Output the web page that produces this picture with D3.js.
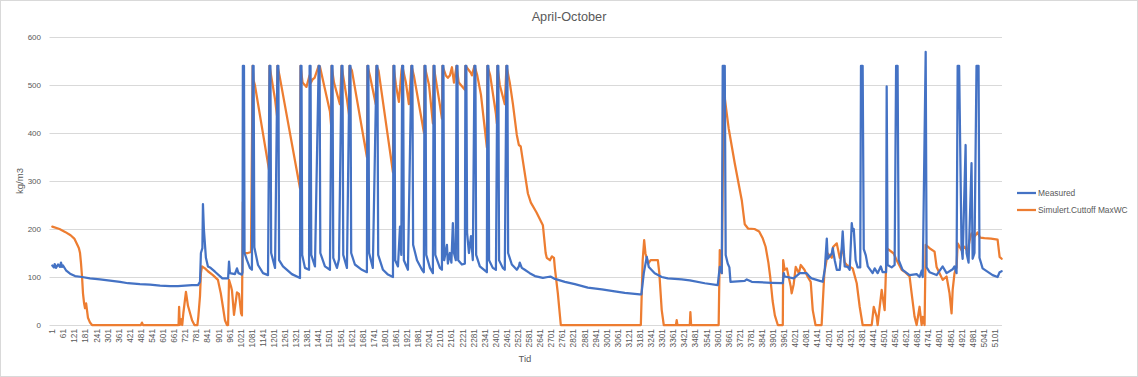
<!DOCTYPE html>
<html>
<head>
<meta charset="utf-8">
<script src="https://cdn.jsdelivr.net/npm/d3@7"></script>
<style>
    body { margin: 0; background: #fff; }
    svg { display: block; font-family: "Liberation Sans", Arial, sans-serif; }
</style>
</head>
<body>
<svg id="chart" width="1138" height="377"></svg>
<script>

var chartTitle = "April-October";
var yTitle = "kg/m3";
var xTitle = "Tid";
var seriesNames = ["Measured", "Simulert.Cuttoff MaxWC"];
var seriesColors = ["#4472C4", "#ED7D31"];
var yTicks = [0, 100, 200, 300, 400, 500, 600];
var xTickLabels = d3.range(1, 5102, 60);

// [Tid, kg/m3]
var measuredPoints = [
    [1,124],[10,120],[14,127],[21,119],[32,126],[43,121],[48,130],[54,121],[59,124],[75,114],[97,107],[124,102],
    [162,100],[205,97],[259,95],[324,92],[367,90],[411,87],[475,85],[530,84],[584,82],[638,81],[681,81],[719,82],
    [757,83],[789,83],[800,90],[805,150],[813,160],[816,252],[821,200],[832,140],[843,122],[854,120],[881,111],
    [921,97],[952,97],[957,132],[962,108],[989,106],[1000,118],[1008,108],[1027,105],
    [1030,110],[1032,540],[1038,540],[1041,150],[1054,135],[1070,119],[1081,115],
    [1085,540],[1090,540],[1094,162],[1114,125],[1141,108],[1168,104],
    [1176,540],[1181,540],[1185,150],[1206,119],
    [1219,540],[1224,540],[1228,135],[1249,122],[1297,106],[1341,98],
    [1344,540],[1349,540],[1353,146],[1368,119],[1390,115],
    [1393,540],[1398,540],[1402,146],[1422,122],
    [1442,540],[1447,540],[1451,150],[1476,122],[1503,115],
    [1512,540],[1517,540],[1521,140],[1541,119],[1552,137],
    [1566,540],[1571,540],[1575,146],[1595,119],
    [1609,540],[1614,540],[1618,150],[1638,126],[1676,115],[1703,110],
    [1706,540],[1711,540],[1715,150],[1735,119],
    [1755,540],[1760,540],[1764,146],[1790,115],[1817,105],[1844,100],
    [1847,540],[1852,540],[1856,135],[1871,122],[1882,205],[1889,146],
    [1894,540],[1899,540],[1903,135],[1925,115],
    [1944,540],[1949,540],[1953,167],[1974,135],[2001,115],[2011,110],
    [2015,540],[2020,540],[2024,146],[2044,119],[2060,108],
    [2064,540],[2069,540],[2073,146],[2098,119],[2109,115],
    [2112,540],[2117,540],[2121,135],[2136,167],[2141,128],[2152,150],[2160,130],[2168,212],[2174,150],[2184,135],
    [2188,540],[2193,540],[2197,135],[2217,126],[2233,128],
    [2236,540],[2241,540],[2245,192],[2255,150],[2266,185],[2276,135],
    [2285,540],[2290,540],[2294,146],[2314,122],[2352,110],
    [2355,540],[2360,540],[2364,135],[2384,119],[2401,115],
    [2409,540],[2414,540],[2418,135],[2438,119],[2449,115],
    [2458,540],[2463,540],[2467,150],[2487,126],[2514,115],[2525,122],[2530,130],[2541,119],[2557,115],
    [2584,108],[2612,102],[2655,98],[2682,100],[2696,101],[2720,96],[2774,90],[2828,85],[2898,78],[2974,74],
    [3044,70],[3098,67],[3179,64],[3188,64],[3201,108],[3217,142],[3228,121],[3260,108],[3298,100],[3331,97],
    [3406,95],[3450,93],[3531,87],[3601,83],[3612,121],[3623,108],[3628,540],[3639,540],[3644,146],[3655,128],
    [3664,120],[3670,90],[3747,92],[3758,95],[3785,90],[3893,88],[3953,87],[3958,108],[3963,101],[4012,97],
    [4045,108],[4082,108],[4099,100],[4109,97],[4153,92],[4169,90],[4180,115],[4191,180],[4196,138],[4218,149],
    [4223,160],[4234,135],[4245,115],[4261,115],[4272,163],[4277,195],[4288,122],[4304,121],[4315,115],[4326,212],
    [4331,196],[4337,200],[4347,135],[4358,120],[4372,120],[4376,540],[4385,540],[4391,158],[4402,145],[4413,122],
    [4439,108],[4450,118],[4466,108],[4483,122],[4493,110],[4512,110],[4515,497],[4520,125],[4542,120],[4558,125],
    [4566,540],[4574,540],[4580,135],[4601,115],[4639,104],[4677,106],[4693,100],[4704,113],[4710,100],[4726,569],
    [4731,120],[4747,110],[4785,104],[4818,122],[4839,108],[4872,116],[4882,122],[4893,108],[4899,540],[4907,540],
    [4920,160],[4926,138],[4942,375],[4947,150],[4958,130],[4974,337],[4980,138],[4990,150],[5001,540],[5012,540],
    [5017,140],[5034,118],[5088,104],[5115,100],[5126,110],[5137,112]
];

var simulatedPoints = [
    [1,205],[40,200],[70,194],[100,187],[120,180],[135,168],[145,160],[151,150],[156,130],[162,100],[167,66],
    [173,45],[178,35],[184,45],[189,30],[194,15],[205,5],[216,0],[480,0],[486,5],[492,0],[684,0],[687,38],[691,0],
    [699,12],[704,0],[710,25],[724,69],[735,40],[746,25],[757,10],[770,0],[786,0],[791,17],[800,60],[805,108],
    [811,122],[827,118],[843,112],[870,104],[897,94],[913,65],[924,38],[935,10],[946,0],[952,0],[957,94],[968,80],
    [973,72],[984,21],[1000,68],[1011,65],[1022,25],[1027,20],[1032,256],[1038,150],[1059,150],[1076,152],
    [1085,540],[1090,510],[1097,500],[1174,322],[1176,540],[1189,510],[1206,470],[1217,435],[1219,540],[1230,520],
    [1341,285],[1344,540],[1355,505],[1376,496],[1393,520],[1400,505],[1410,512],[1420,515],[1442,540],[1449,538],
    [1503,445],[1510,413],[1512,540],[1525,505],[1557,460],[1566,540],[1574,520],[1595,470],[1607,437],[1609,540],
    [1622,530],[1703,350],[1706,540],[1719,520],[1751,460],[1755,540],[1766,530],[1844,318],[1847,540],[1860,500],
    [1876,465],[1890,530],[1894,540],[1914,505],[1930,460],[1944,540],[1957,520],[2012,400],[2015,540],[2039,500],
    [2060,420],[2064,540],[2093,470],[2109,430],[2112,540],[2130,520],[2141,515],[2152,520],[2163,537],[2174,505],
    [2188,540],[2200,505],[2233,490],[2236,540],[2266,525],[2271,520],[2285,540],[2300,520],[2320,480],[2352,370],
    [2355,540],[2370,520],[2401,440],[2406,420],[2409,540],[2422,500],[2449,460],[2458,540],[2476,505],[2493,460],
    [2514,396],[2525,375],[2535,372],[2546,344],[2574,274],[2590,255],[2620,235],[2655,208],[2670,150],[2676,140],
    [2693,135],[2704,143],[2715,140],[2720,118],[2736,66],[2752,0],[3185,0],[3195,135],[3203,177],[3210,149],
    [3225,128],[3238,135],[3260,135],[3277,135],[3285,108],[3298,31],[3309,0],[3375,0],[3379,10],[3383,0],
    [3450,0],[3453,27],[3457,0],[3606,0],[3612,156],[3617,120],[3623,108],[3628,300],[3634,495],[3640,470],
    [3650,440],[3660,410],[3693,337],[3731,260],[3747,210],[3765,201],[3800,200],[3825,195],[3845,180],[3860,163],
    [3875,130],[3885,100],[3898,50],[3910,20],[3926,0],[3953,0],[3955,135],[3963,115],[3975,118],[3996,80],
    [4001,66],[4012,85],[4023,121],[4040,108],[4050,125],[4070,115],[4088,100],[4104,90],[4115,31],[4130,0],
    [4163,0],[4178,110],[4196,149],[4218,140],[4226,163],[4245,170],[4261,140],[4277,160],[4288,130],[4299,125],
    [4331,118],[4353,87],[4369,38],[4385,0],[4434,0],[4445,38],[4461,17],[4466,0],[4488,73],[4504,31],[4515,160],
    [4553,149],[4569,135],[4596,115],[4612,111],[4639,101],[4650,66],[4666,17],[4677,0],[4693,38],[4704,0],
    [4710,17],[4720,0],[4726,167],[4747,160],[4774,153],[4785,121],[4801,108],[4818,94],[4839,101],[4855,66],
    [4866,24],[4872,73],[4882,108],[4893,120],[4899,170],[4920,156],[4937,163],[4953,153],[4963,175],[4974,191],
    [4990,184],[5007,193],[5020,182],[5044,181],[5080,180],[5115,178],[5126,142],[5137,138]
];

function init() {
    var svg = d3.select("#chart");
    var plotLeft = 49.5, plotRight = 1002;

    var x = d3.scaleLinear().domain([1, 5101]).range([52.3, 995]);
    var y = d3.scaleLinear().domain([0, 600]).range([325, 37]);

    // chart border
    svg.append("rect")
        .attr("x", 0.5).attr("y", 0.5)
        .attr("width", 1137).attr("height", 376)
        .attr("fill", "#fff")
        .attr("stroke", "#D9D9D9");

    // gridlines
    svg.append("g").selectAll("line")
        .data(yTicks)
        .enter().append("line")
        .attr("x1", plotLeft).attr("x2", plotRight)
        .attr("y1", function (d) { return Math.round(y(d)) + 0.5; })
        .attr("y2", function (d) { return Math.round(y(d)) + 0.5; })
        .attr("stroke", "#D9D9D9")
        .attr("stroke-width", 1);

    // y tick labels
    svg.append("g").selectAll("text")
        .data(yTicks)
        .enter().append("text")
        .attr("x", 41)
        .attr("y", function (d) { return y(d); })
        .attr("dy", "0.35em")
        .attr("text-anchor", "end")
        .attr("font-size", "8px")
        .attr("fill", "#595959")
        .text(function (d) { return d; });

    // x tick labels, rotated
    svg.append("g").selectAll("text")
        .data(xTickLabels)
        .enter().append("text")
        .attr("transform", function (d) {
            return "translate(" + x(d) + ",329) rotate(-90)";
        })
        .attr("dy", "0.35em")
        .attr("text-anchor", "end")
        .attr("font-size", "8.3px")
        .attr("fill", "#595959")
        .text(function (d) { return d; });

    var line = d3.line()
        .x(function (d) { return x(d[0]); })
        .y(function (d) { return y(d[1]); });

    // simulated first so the measured spikes sit on top
    var series = [
        { name: seriesNames[1], color: seriesColors[1], points: simulatedPoints },
        { name: seriesNames[0], color: seriesColors[0], points: measuredPoints }
    ];

    svg.append("g").selectAll("path")
        .data(series)
        .enter().append("path")
        .attr("d", function (d) { return line(d.points); })
        .attr("fill", "none")
        .attr("stroke", function (d) { return d.color; })
        .attr("stroke-width", 2.25)
        .attr("stroke-linejoin", "round")
        .attr("stroke-linecap", "round");

    // titles
    svg.append("text")
        .attr("x", 569).attr("y", 21)
        .attr("text-anchor", "middle")
        .attr("font-size", "12.7px")
        .attr("fill", "#595959")
        .text(chartTitle);

    svg.append("text")
        .attr("transform", "translate(23,181) rotate(-90)")
        .attr("text-anchor", "middle")
        .attr("font-size", "9.5px")
        .attr("fill", "#595959")
        .text(yTitle);

    svg.append("text")
        .attr("x", 525).attr("y", 362)
        .attr("text-anchor", "middle")
        .attr("font-size", "9.5px")
        .attr("fill", "#595959")
        .text(xTitle);

    // legend
    var legend = svg.append("g").selectAll("g")
        .data(seriesNames)
        .enter().append("g")
        .attr("transform", function (d, i) { return "translate(1017," + (193 + i * 17) + ")"; });

    legend.append("line")
        .attr("x1", 0).attr("x2", 19)
        .attr("y1", 0).attr("y2", 0)
        .attr("stroke", function (d, i) { return seriesColors[i]; })
        .attr("stroke-width", 2.25);

    legend.append("text")
        .attr("x", 21).attr("y", 0)
        .attr("dy", "0.35em")
        .attr("font-size", "8.4px")
        .attr("fill", "#595959")
        .text(function (d) { return d; });
}

init();
</script>
</body>
</html>
